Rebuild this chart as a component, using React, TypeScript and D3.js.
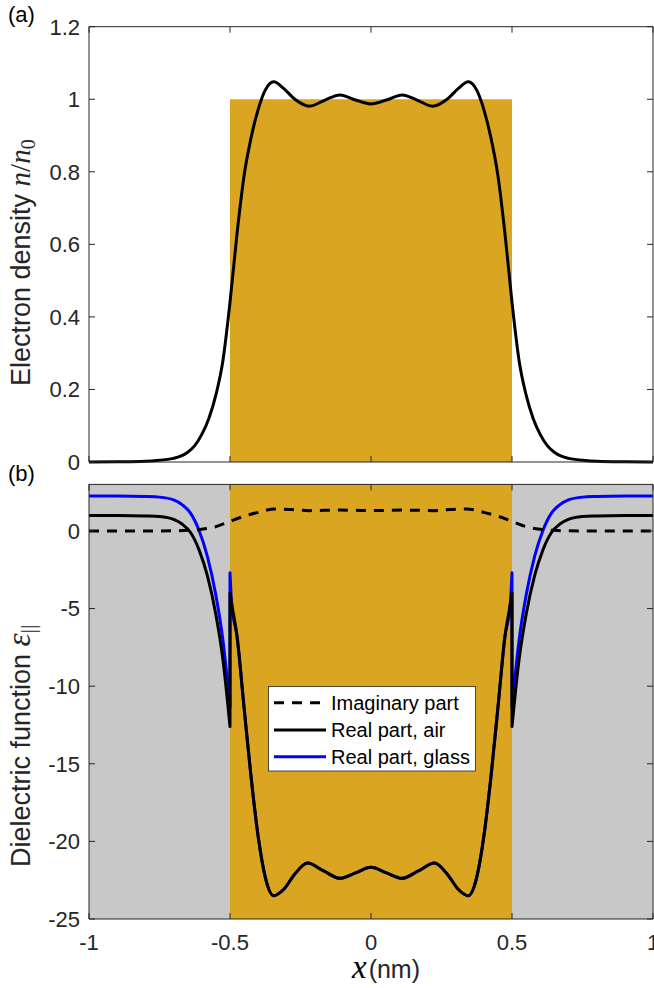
import React from 'react';
import * as d3 from 'd3';

// ---------- data ----------
const xTicks = [-1, -0.5, 0, 0.5, 1];
const xTickLabels = ['-1', '-0.5', '0', '0.5', '1'];
const densityTicks = [0, 0.2, 0.4, 0.6, 0.8, 1, 1.2];
const densityTickLabels = ['0', '0.2', '0.4', '0.6', '0.8', '1', '1.2'];
const epsTicks = [-25, -20, -15, -10, -5, 0];
const epsTickLabels = ['-25', '-20', '-15', '-10', '-5', '0'];

// (a) electron density n/n0
const densityX = [-1, -0.9, -0.8, -0.75, -0.7, -0.675, -0.65, -0.625, -0.6, -0.575, -0.55, -0.525, -0.5, -0.475, -0.45, -0.425, -0.4, -0.375, -0.345, -0.31, -0.27, -0.218, -0.165, -0.11, -0.055,
  0, 0.055, 0.11, 0.165, 0.218, 0.27, 0.31, 0.345, 0.375, 0.4, 0.425, 0.45, 0.475, 0.5, 0.525, 0.55, 0.575, 0.6, 0.625, 0.65, 0.675, 0.7, 0.75, 0.8, 0.9, 1];
const densityN = [0, 0.0005, 0.002, 0.005, 0.01, 0.016, 0.027, 0.045, 0.076, 0.12, 0.185, 0.28, 0.44, 0.63, 0.79, 0.895, 0.972, 1.025, 1.048, 1.03, 1.0, 0.981, 0.997, 1.012, 0.998,
  0.987, 0.998, 1.012, 0.997, 0.981, 1.0, 1.03, 1.048, 1.025, 0.972, 0.895, 0.79, 0.63, 0.44, 0.28, 0.185, 0.12, 0.076, 0.045, 0.027, 0.016, 0.01, 0.005, 0.002, 0.0005, 0];

// (b) imaginary part
const imagX = [-1, -0.8, -0.7, -0.65, -0.6, -0.55, -0.5, -0.45, -0.4, -0.34, -0.28, -0.22, -0.165, -0.11, -0.055, 0, 0.055, 0.11, 0.165, 0.22, 0.28, 0.34, 0.4, 0.45, 0.5, 0.55, 0.6, 0.65, 0.7, 0.8, 1];
const imagV = [0, 0, 0.01, 0.04, 0.11, 0.28, 0.62, 0.95, 1.2, 1.42, 1.38, 1.31, 1.33, 1.35, 1.33, 1.31, 1.33, 1.35, 1.33, 1.31, 1.38, 1.42, 1.2, 0.95, 0.62, 0.28, 0.11, 0.04, 0.01, 0, 0];

// (b) real part, outside the slab (left and right)
const outLeftX = [-1, -0.9, -0.8, -0.75, -0.7, -0.67, -0.64, -0.61, -0.58, -0.55, -0.525, -0.5];
const airOutLeft = [1.0, 1.0, 0.97, 0.93, 0.75, 0.45, -0.1, -1.2, -2.9, -5.4, -8.3, -12.6];
const glassOutLeft = [2.25, 2.25, 2.22, 2.18, 2.0, 1.7, 1.15, 0.05, -1.65, -4.15, -7.05, -11.35];
const outRightX = [0.5, 0.525, 0.55, 0.58, 0.61, 0.64, 0.67, 0.7, 0.75, 0.8, 0.9, 1];
const airOutRight = [-12.6, -8.3, -5.4, -2.9, -1.2, -0.1, 0.45, 0.75, 0.93, 0.97, 1.0, 1.0];
const glassOutRight = [-11.35, -7.05, -4.15, -1.65, 0.05, 1.15, 1.7, 2.0, 2.18, 2.22, 2.25, 2.25];

// (b) real part, inside the slab
const inX = [-0.5, -0.494, -0.475, -0.45, -0.425, -0.4, -0.375, -0.345, -0.31, -0.27, -0.225, -0.168, -0.11, -0.055, 0,
  0.055, 0.11, 0.168, 0.225, 0.27, 0.31, 0.345, 0.375, 0.4, 0.425, 0.45, 0.475, 0.494, 0.5];
const airIn = [-4.0, -4.7, -6.8, -11.4, -15.9, -19.7, -22.3, -23.5, -23.1, -22.1, -21.4, -21.9, -22.38, -22.03, -21.67,
  -22.03, -22.38, -21.9, -21.4, -22.1, -23.1, -23.5, -22.3, -19.7, -15.9, -11.4, -6.8, -4.7, -4.0];
const glassIn = [-2.7, -4.7, -6.8, -11.4, -15.9, -19.7, -22.3, -23.5, -23.1, -22.1, -21.4, -21.9, -22.38, -22.03, -21.67,
  -22.03, -22.38, -21.9, -21.4, -22.1, -23.1, -23.5, -22.3, -19.7, -15.9, -11.4, -6.8, -4.7, -2.7];

const legendLabels = ['Imaginary part', 'Real part, air', 'Real part, glass'];

// ---------- layout ----------
const W = 654, H = 988;
const SANS = "'Liberation Sans', Arial, Helvetica, sans-serif";
const SERIF = "'Liberation Serif', 'Times New Roman', serif";
const AX = '#262626';
const GOLD = '#DAA520';
const GRAY = '#C8C8C8';
const TICK_FS = 22;
const TICK_LEN = 6;
const LW = 3;

const xS = d3.scaleLinear().domain([-1, 1]).range([89, 653]);
const yA = d3.scaleLinear().domain([0, 1.2]).range([462, 26.7]);
const yB = d3.scaleLinear().domain([-25, 3]).range([919, 484.4]);

const zip = (xs: number[], ys: number[]) => xs.map((x, i) => [x, ys[i]] as [number, number]);

function pieces(yScale: d3.ScaleLinear<number, number>, parts: [number, number][][]) {
  const gen = d3.line<[number, number]>().x(d => xS(d[0])).y(d => yScale(d[1])).curve(d3.curveMonotoneX);
  return parts.map((p, i) => {
    const s = gen(p) || '';
    return i === 0 ? s : 'L' + s.slice(1);
  }).join('');
}

export default function App() {
  const x0 = xS(-1), x1 = xS(1);
  const densityPath = d3.line<[number, number]>().x(d => xS(d[0])).y(d => yA(d[1])).curve(d3.curveMonotoneX)(zip(densityX, densityN)) || '';
  const imagPath = d3.line<[number, number]>().x(d => xS(d[0])).y(d => yB(d[1])).curve(d3.curveMonotoneX)(zip(imagX, imagV)) || '';
  const airPath = pieces(yB, [zip(outLeftX, airOutLeft), zip(inX, airIn), zip(outRightX, airOutRight)]);
  const glassPath = pieces(yB, [zip(outLeftX, glassOutLeft), zip(inX, glassIn), zip(outRightX, glassOutRight)]);

  const lg = { x: 268.5, y: 686.5, w: 207, h: 84.5 };
  const rows = [702.7, 730, 756.7];

  const frame = (yTop: number, yBot: number) => (
    <g stroke={AX} strokeWidth={1} fill="none">
      <line x1={x0} x2={x1} y1={yTop} y2={yTop} />
      <line x1={x0} x2={x1} y1={yBot} y2={yBot} />
      <line x1={x0} x2={x0} y1={yTop} y2={yBot} />
      <line x1={x1} x2={x1} y1={yTop} y2={yBot} />
      {xTicks.map(t => (
        <g key={t}>
          <line x1={xS(t)} x2={xS(t)} y1={yBot} y2={yBot - TICK_LEN} />
          <line x1={xS(t)} x2={xS(t)} y1={yTop} y2={yTop + TICK_LEN} />
        </g>
      ))}
    </g>
  );

  return (
    <svg width={W} height={H} viewBox={`0 0 ${W} ${H}`} style={{ position: 'absolute', left: 0, top: 0, background: '#fff' }}>
      {/* ---------- panel (a) ---------- */}
      <rect x={xS(-0.5)} y={yA(1)} width={xS(0.5) - xS(-0.5)} height={yA(0) - yA(1)} fill={GOLD} />
      <path d={densityPath} fill="none" stroke="#000" strokeWidth={LW} strokeLinejoin="round" />
      {frame(yA(1.2), yA(0))}
      <g stroke={AX} strokeWidth={1}>
        {densityTicks.map(t => (
          <g key={t}>
            <line x1={x0} x2={x0 + TICK_LEN} y1={yA(t)} y2={yA(t)} />
            <line x1={x1} x2={x1 - TICK_LEN} y1={yA(t)} y2={yA(t)} />
          </g>
        ))}
      </g>
      <g fontFamily={SANS} fontSize={TICK_FS} fill={AX} textAnchor="end">
        {densityTicks.map((t, i) => (
          <text key={t} x={80} y={yA(t)} dy="0.36em">{densityTickLabels[i]}</text>
        ))}
      </g>
      <text transform="translate(30,386) rotate(-90)" fontFamily={SANS} fontSize={27} fill={AX}>
        Electron density{' '}
        <tspan fontFamily={SERIF} fontStyle="italic" fontSize={29}>n</tspan>
        <tspan fontFamily={SERIF} fontSize={29}>/</tspan>
        <tspan fontFamily={SERIF} fontStyle="italic" fontSize={29}>n</tspan>
        <tspan fontFamily={SERIF} fontSize={20} dy={5}>0</tspan>
      </text>
      <text x={8} y={22} fontFamily={SANS} fontSize={22} fill="#000">(a)</text>

      {/* ---------- panel (b) ---------- */}
      <rect x={x0} y={yB(3)} width={xS(-0.5) - x0} height={yB(-25) - yB(3)} fill={GRAY} />
      <rect x={xS(0.5)} y={yB(3)} width={x1 - xS(0.5)} height={yB(-25) - yB(3)} fill={GRAY} />
      <rect x={xS(-0.5)} y={yB(3)} width={xS(0.5) - xS(-0.5)} height={yB(-25) - yB(3)} fill={GOLD} />
      <path d={glassPath} fill="none" stroke="#0000FF" strokeWidth={LW} strokeLinejoin="round" />
      <path d={airPath} fill="none" stroke="#000" strokeWidth={LW} strokeLinejoin="round" />
      <path d={imagPath} fill="none" stroke="#000" strokeWidth={LW} strokeDasharray="10 8" />
      {frame(yB(3), yB(-25))}
      <g stroke={AX} strokeWidth={1}>
        {epsTicks.map(t => (
          <g key={t}>
            <line x1={x0} x2={x0 + TICK_LEN} y1={yB(t)} y2={yB(t)} />
            <line x1={x1} x2={x1 - TICK_LEN} y1={yB(t)} y2={yB(t)} />
          </g>
        ))}
      </g>
      <g fontFamily={SANS} fontSize={TICK_FS} fill={AX} textAnchor="end">
        {epsTicks.map((t, i) => (
          <text key={t} x={80} y={yB(t)} dy="0.36em">{epsTickLabels[i]}</text>
        ))}
      </g>
      <g fontFamily={SANS} fontSize={TICK_FS} fill={AX} textAnchor="middle">
        {xTicks.map((t, i) => (
          <text key={t} x={xS(t)} y={950}>{xTickLabels[i]}</text>
        ))}
      </g>
      <text x={386} y={978} textAnchor="middle" fill="#000">
        <tspan fontFamily={SERIF} fontStyle="italic" fontSize={33}>x</tspan>
        <tspan fontFamily={SANS} fontSize={25} fill={AX} dx={2}>(nm)</tspan>
      </text>
      <text transform="translate(30,867) rotate(-90)" fontFamily={SANS} fontSize={27} fill={AX}>
        Dielectric function{' '}
        <tspan fontFamily={SERIF} fontStyle="italic" fontSize={33}>ε</tspan>
        <tspan fontFamily={SERIF} fontSize={22} dy={5}>||</tspan>
      </text>
      <text x={8} y={481} fontFamily={SANS} fontSize={22} fill="#000">(b)</text>

      {/* legend */}
      <rect x={lg.x} y={lg.y} width={lg.w} height={lg.h} fill="#fff" stroke={AX} strokeWidth={0.8} />
      {legendLabels.map((label, i) => (
        <g key={label}>
          <line x1={274} x2={326} y1={rows[i]} y2={rows[i]}
            stroke={i === 2 ? '#0000FF' : '#000'} strokeWidth={LW}
            strokeDasharray={i === 0 ? '10 8' : undefined} />
          <text x={331} y={rows[i]} dy="0.36em" fontFamily={SANS} fontSize={20} fill="#000">{label}</text>
        </g>
      ))}
    </svg>
  );
}
